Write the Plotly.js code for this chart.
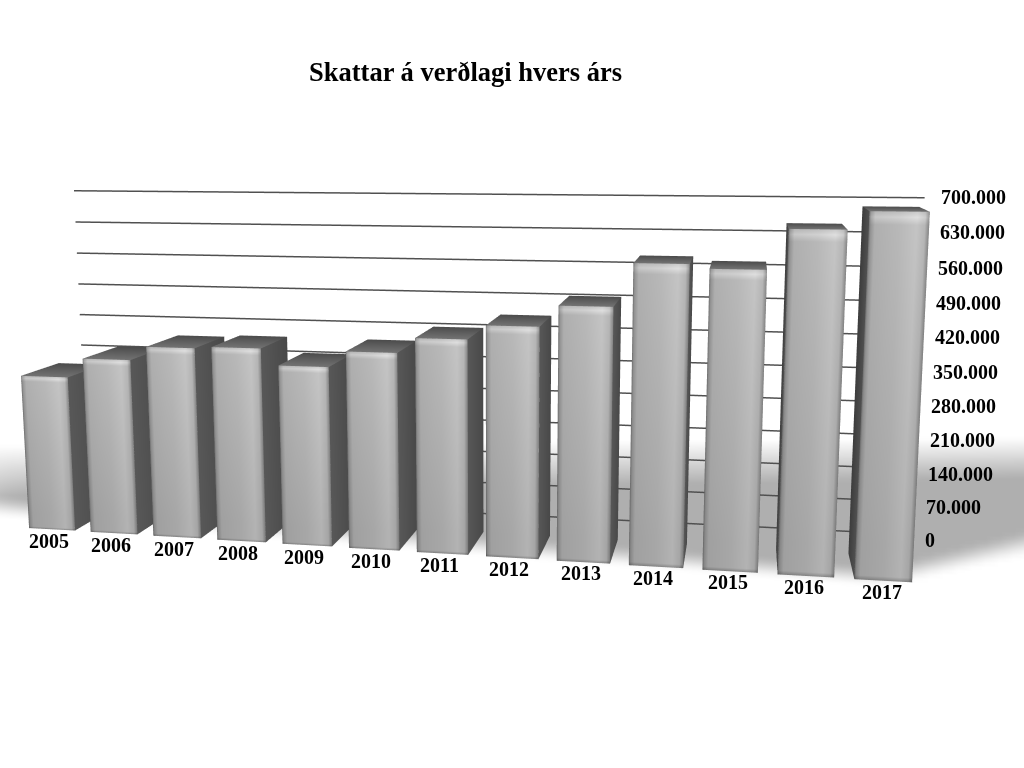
<!DOCTYPE html>
<html><head><meta charset="utf-8">
<script src="https://cdn.plot.ly/plotly-3.0.1.min.js"></script>
<style>html,body{margin:0;padding:0;background:#fff;overflow:hidden}
#w{position:absolute;left:0;top:0;width:1024px;height:768px;overflow:hidden}
#c{position:absolute;left:-36px;top:-231px;width:1062px;height:1160px}</style>
</head><body><div id="w"><div id="c"></div></div>
<script>
const years=['2005','2006','2007','2008','2009','2010','2011','2012','2013','2014','2015','2016','2017'];
const taxes=[328000,369000,398000,402000,369000,402000,433000,462000,504000,588000,580000,656000,690000];
const ticks=[0,70000,140000,210000,280000,350000,420000,490000,560000,630000,700000];
const tickText=['0','70.000','140.000','210.000','280.000','350.000','420.000','490.000','560.000','630.000','700.000'];

// scene scaling (eye-distance units)
const K=0.2, UX=0.4846, UZ=2.396/700000, F=1407, PX=495, PY=349;
const xr=[-8,20], yr=[-3,10], zr=[-20000,720000];
const ax=(xr[1]-xr[0])*UX, ay=yr[1]-yr[0], az=(zr[1]-zr[0])*UZ;
const cw=[-4.9+UX*(xr[0]+xr[1])/2, 9.05+(yr[0]+yr[1])/2, -2.86+UZ*(zr[0]+zr[1])/2];
const fwd=[-0.1754,0.972,-0.1548];
const eye=cw.map(v=>-v*K);
const lookAt=eye.map((v,i)=>v+10*K*fwd[i]);

const X=[],Y=[],Z=[],I=[],J=[],K3=[],C=[];
function quad(p,c){const n=X.length;p.forEach((q,i)=>{X.push(q[0]);Y.push(q[1]);Z.push(q[2]);C.push(c[i]);});I.push(n,n);J.push(n+1,n+2);K3.push(n+2,n+3);}
const g=v=>{v=Math.round(Math.min(255,v));return `rgb(${v},${v},${v})`;};
const us=[0,0.03,0.1,0.5,0.8,0.93,1], ug=[110,145,172,180,192,178,130];
const yo=i=>0.04-0.14*i/12;
function bar(i,v){
  const hw=0.37,x0=i-hw,x1=i+hw,y0=yo(i),y1=y0+0.56;
  const zs=[0,0.012,0.1,0.965,0.985,1], zm=[0.72,0.93,0.93,1.02,1.16,1.05];
  for(let s=0;s<us.length-1;s++){
    const a=x0+(x1-x0)*us[s],b=x0+(x1-x0)*us[s+1];
    for(let t=0;t<zs.length-1;t++){
      const zl=zs[t]*v,zh=zs[t+1]*v;
      quad([[a,y0,zl],[b,y0,zl],[b,y0,zh],[a,y0,zh]],
       [g(ug[s]*zm[t]),g(ug[s+1]*zm[t]),g(ug[s+1]*zm[t+1]),g(ug[s]*zm[t+1])]);
    }
  }
  quad([[x0,y0,v],[x1,y0,v],[x1,y1,v],[x0,y1,v]],[g(115),g(115),g(75),g(75)]);
  quad([[x1,y0,0],[x1,y1,0],[x1,y1,v],[x1,y0,v]],[g(88),g(72),g(72),g(88)]);
  quad([[x0,y0,0],[x0,y1,0],[x0,y1,v],[x0,y0,v]],[g(80),g(60),g(60),g(80)]);
}
years.forEach((y,i)=>bar(i,taxes[i]));

// soft floor shadow: a shaded grid lying on the floor plane
const fx=[],fy=[],fz=[],fi=[],fj=[],fk=[],fc=[];
const sm=t=>{t=Math.max(0,Math.min(1,t));return t*t*(3-2*t);};
const cl=t=>Math.max(0,Math.min(1,t));
const FZ=-5000, su=[],sv=[];
for(let u=-20;u<=1044;u+=14)su.push(u);
for(let v=424;v<=600;v+=4)sv.push(v);
sv.forEach(v=>su.forEach(u=>{
  const a=(u-PX)/F,b=(v-PY)/F;
  const d=[0.984*a+0.0276*b-0.1754,0.1776*a-0.1527*b+0.972,-0.988*b-0.1548];
  const t=(-2.86+UZ*FZ)/d[2];
  fx.push((t*d[0]+4.9)/UX);fy.push(t*d[1]-9.05);fz.push(FZ);
  const t0=446-8*u/1024,t1=497-18*u/1024;
  const b1=u<=885?495+u*70/885:565-(u-885)*35/139;
  const b0=u<=885?b1+25:590-(u-885)*30/139;
  const s=cl((v-t0)/(t1-t0))*(1-sm((v-b1)/(b0-b1)))*sm((u+120)/150);
  fc.push(g(255-80*s));
}));
const nu=su.length;
for(let r=0;r<sv.length-1;r++)for(let q=0;q<nu-1;q++){
  const n=r*nu+q;fi.push(n,n);fj.push(n+1,n+nu+1);fk.push(n+nu+1,n+nu);
}

const gx=[],gy=[],gz=[];
ticks.forEach(t=>{gx.push(-0.41,12.57,null);gy.push(1.01,1.01,null);gz.push(t,t,null);});
const font={family:'Liberation Serif',size:20,color:'#000'};
const ann=[];
years.forEach((y,i)=>ann.push({x:i,y:yo(i)-0.2,z:0,text:'<b>'+y+'</b>',showarrow:false,font,xshift:(12-i)*1.2-4,yshift:-(4-3*i/12)}));
ticks.forEach((t,i)=>ann.push({x:12.82,y:1.01,z:t,text:'<b>'+tickText[i]+'</b>',showarrow:false,font,xanchor:'left',xshift:-3.5,yshift:1-6*(1-t/700000)}));
const hide={visible:false,showgrid:false,zeroline:false,showticklabels:false,showspikes:false};
const flat={ambient:1,diffuse:0,specular:0,roughness:1,fresnel:0};
Plotly.newPlot('c',[
 {type:'mesh3d',x:fx,y:fy,z:fz,i:fi,j:fj,k:fk,vertexcolor:fc,flatshading:false,lighting:flat,hoverinfo:'skip'},
 {type:'mesh3d',x:X,y:Y,z:Z,i:I,j:J,k:K3,vertexcolor:C,flatshading:true,lighting:flat,hoverinfo:'skip'},
 {type:'scatter3d',mode:'lines',x:gx,y:gy,z:gz,line:{color:'#505050',width:3},hoverinfo:'skip'}
],{
 width:1062,height:1160,margin:{l:0,r:0,t:0,b:0},paper_bgcolor:'#fff',showlegend:false,
 annotations:[{xref:'paper',yref:'paper',x:(465.5+36)/1062,y:1-(72+231)/1160,yanchor:'middle',text:'<b>Skattar á verðlagi hvers árs</b>',showarrow:false,font:{family:'Liberation Serif',size:26.5,color:'#000'}}],
 scene:{xaxis:Object.assign({range:xr},hide),yaxis:Object.assign({range:yr},hide),zaxis:Object.assign({range:zr},hide),
  aspectmode:'manual',aspectratio:{x:ax*K,y:ay*K,z:az*K},
  domain:{x:[0,1],y:[0,1]},
  camera:{eye:{x:eye[0],y:eye[1],z:eye[2]},center:{x:lookAt[0],y:lookAt[1],z:lookAt[2]},up:{x:0,y:0,z:1}},
  annotations:ann}
},{displayModeBar:false});
</script></body></html>
